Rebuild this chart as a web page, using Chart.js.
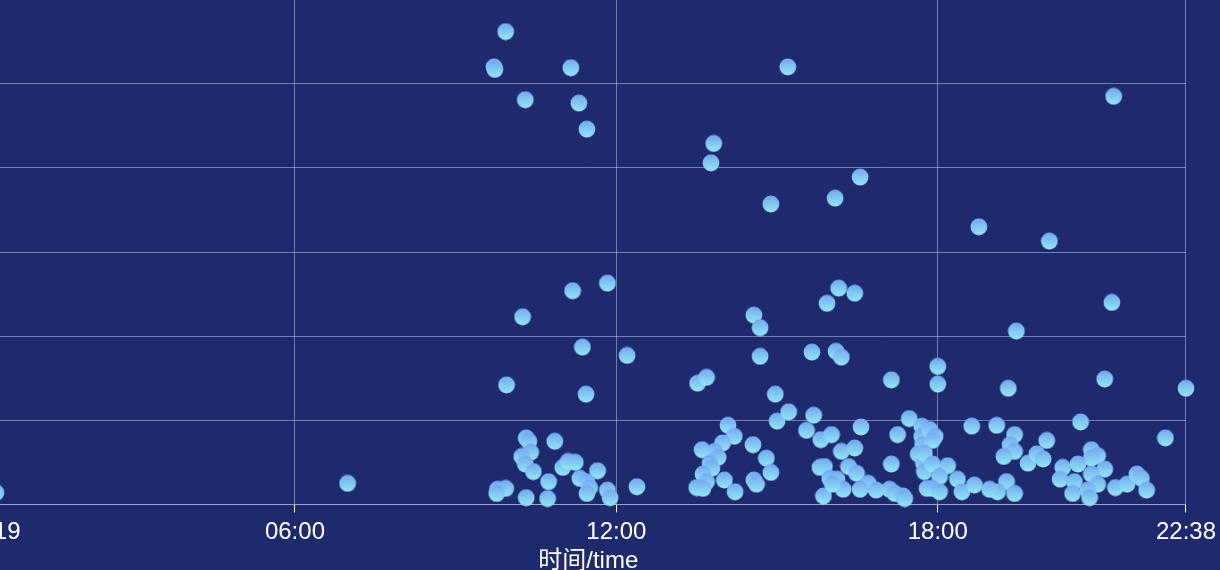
<!DOCTYPE html>
<html><head><meta charset="utf-8">
<script src="https://cdn.jsdelivr.net/npm/chart.js@4/dist/chart.umd.min.js"></script>
<style>
html,body{margin:0;padding:0;width:1220px;height:570px;overflow:hidden;background:#1f2a6e;}
#wrap{position:absolute;left:-100px;top:-30px;width:1324px;height:620px;}
</style></head><body><div id="wrap"><canvas id="c"></canvas></div>
<script>
const times = ['00:25','06:59','09:56','09:43','09:44','10:18','11:09','11:18','11:27','13:49','13:46','15:12','21:17','14:53','16:33','16:05','18:46','20:05','11:11','11:50','10:15','11:22','12:12','09:57','11:26','14:34','14:41','16:09','15:56','16:27','15:39','16:06','16:12','14:41','21:15','19:28','18:00','18:00','17:08','19:19','21:07','22:38','13:31','13:41','14:58','15:00','15:13','15:41','15:33','14:05',
'09:47','09:56','09:46','10:19','10:22','10:51','10:24','10:14','10:18','10:27','11:00','11:06','11:14','11:39','10:44','11:19','11:27','11:30','11:27','11:50','11:53','12:23','10:19','10:43',
'14:12','13:59','13:36','13:50','13:54','13:45','13:47','13:37','13:41','13:30','13:37','14:01','14:13','14:33','14:48','14:53','14:34','14:37',
'15:49','16:01','16:34','16:12','16:27','17:15','17:28','17:42','17:42','17:43','17:38','17:44','17:45','17:08','15:48','15:53','16:20','16:29','15:59','16:07','16:14','16:42','16:33','16:51','17:06','17:12','17:21','15:52','16:02','17:48',
'17:51','17:57','17:54','17:45','17:54','18:11','18:02','17:54','18:02','18:22','18:27','18:41','18:38','19:06','19:26','19:21','19:26','19:14','19:41','19:17','19:07','18:58','19:26','17:23',
'20:40','22:15','20:02','19:51','19:58','20:52','20:59','20:52','20:20','20:37','21:07','20:17','20:33','20:52','20:59','20:31','20:48','20:50','21:19','21:32','21:43','21:48','21:54'];
const values = [1.4,2.5,56.2,52.0,51.7,48.1,51.9,47.7,44.6,42.9,40.6,52.0,48.5,35.7,38.9,36.4,33.0,31.3,25.4,26.3,22.3,18.7,17.7,14.2,13.1,22.5,21.0,25.7,23.9,25.1,18.1,18.2,17.5,17.6,24.0,20.6,16.4,14.3,14.8,13.8,14.9,13.8,14.4,15.1,13.1,9.9,11.0,10.6,8.8,9.4,
1.8,1.9,1.3,7.9,7.5,7.5,6.2,5.7,4.8,3.9,4.4,5.1,5.0,4.0,2.7,3.1,2.7,2.0,1.3,1.7,0.8,2.1,0.8,0.7,
8.1,7.3,6.5,6.3,5.6,4.9,4.3,3.6,2.7,2.0,1.9,2.9,1.5,7.1,5.5,3.8,2.9,2.4,
7.7,8.3,9.2,6.3,6.7,8.3,10.2,9.3,8.1,7.1,6.0,4.9,3.9,4.8,4.4,4.5,4.5,3.7,3.1,3.0,1.8,2.5,1.8,1.7,1.8,1.3,1.0,1.0,2.4,1.9,
8.9,8.1,7.6,6.1,4.8,4.6,3.3,1.9,1.5,3.0,1.5,2.3,9.3,9.4,8.3,7.1,6.3,5.7,4.9,2.7,1.5,1.8,1.3,0.7,
9.8,7.9,7.6,6.0,5.4,6.5,5.8,5.5,4.4,4.8,4.2,3.0,2.7,3.6,2.4,1.3,1.7,0.8,2.0,2.4,3.6,3.1,1.7];
const tickLabels = ['00:19','06:00','12:00','18:00','22:38'];
const yMax = 60, yStep = 10;
const xTitle = '时间/time';

const toMin = s => { const p = s.split(':'); return (+p[0]) * 60 + (+p[1]); };
const tickValues = tickLabels.map(toMin);
const fmt = v => { const h = Math.floor(v / 60), m = Math.round(v % 60); return String(h).padStart(2,'0') + ':' + String(m).padStart(2,'0'); };

// gradient bubble sprite
const R = 8.4;
const sprite = document.createElement('canvas');
sprite.width = 18; sprite.height = 18;
(function(){
  const g = sprite.getContext('2d');
  const gr = g.createLinearGradient(0, 9 - R, 0, 9 + R);
  gr.addColorStop(0, 'rgb(118,166,242)');
  gr.addColorStop(1, 'rgb(144,234,246)');
  g.fillStyle = gr;
  g.beginPath(); g.arc(9, 9, R, 0, Math.PI * 2); g.fill();
})();

const gridCol = 'rgba(200,205,240,0.5)';
new Chart(document.getElementById('c'), {
  type: 'scatter',
  data: { datasets: [{
    data: times.map((t, i) => ({ x: toMin(t), y: values[i] })),
    pointStyle: sprite, pointRadius: R, pointHoverRadius: R, clip: false
  }]},
  options: {
    responsive: true, maintainAspectRatio: false, animation: false,
    layout: { padding: { left: 90.5, right: 33, top: 29.6, bottom: 12.6 } },
    plugins: { legend: { display: false }, tooltip: { enabled: false } },
    scales: {
      x: {
        type: 'linear', min: tickValues[0], max: tickValues[tickValues.length - 1],
        afterBuildTicks: s => { s.ticks = tickValues.map(v => ({ value: v })); },
        ticks: { autoSkip: false, maxRotation: 0, color: '#ffffff', padding: 8,
          font: { family: 'Liberation Sans, Arial, sans-serif', size: 24, lineHeight: 1.0 },
          callback: v => { const i = tickValues.indexOf(v); return i >= 0 ? tickLabels[i] : fmt(v); } },
        grid: { color: gridCol, tickColor: '#ffffff', tickLength: 8, lineWidth: 1 },
        border: { color: gridCol },
        title: { display: true, text: xTitle, color: '#ffffff', padding: { top: -3, bottom: 4 },
          font: { family: 'Liberation Sans, Noto Sans CJK SC, sans-serif', size: 24, lineHeight: 1.0 } }
      },
      y: {
        min: 0, max: yMax,
        ticks: { display: false, stepSize: yStep },
        grid: { color: gridCol, drawTicks: false },
        border: { display: false }
      }
    }
  }
});
</script></body></html>
